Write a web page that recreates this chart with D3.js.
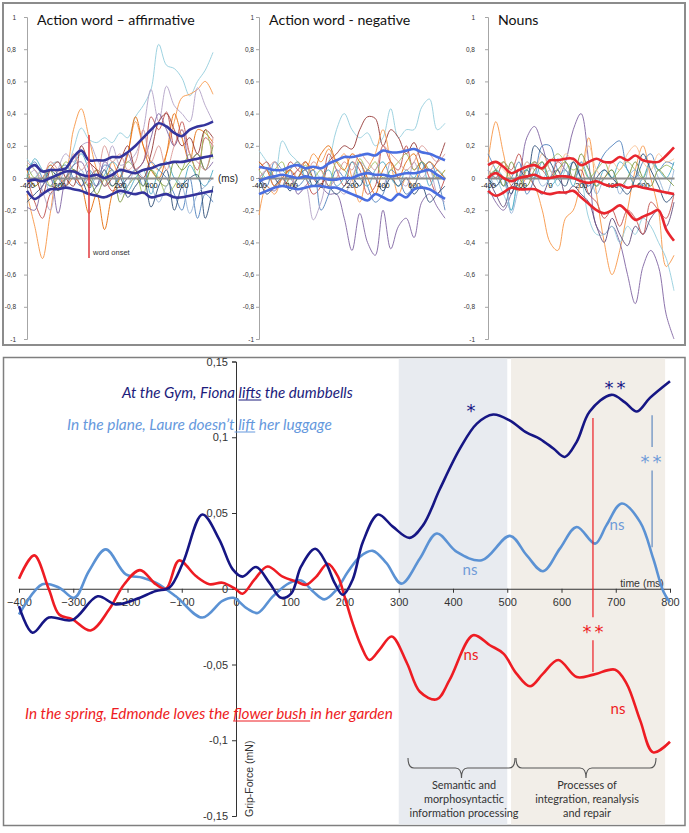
<!DOCTYPE html>
<html><head><meta charset="utf-8">
<script src="https://cdn.jsdelivr.net/npm/d3@7"></script>
<style>body{margin:0;background:#fff}svg{display:block}</style>
</head><body>
<script>
// ================= DATA =================
const topTimes=[-400,-350,-300,-250,-200,-150,-100,-50,0,50,100,150,200,250,300,350,400,450,500,550,600,650,700,750,800];
const topYTicks=[1,0.8,0.6,0.4,0.2,0,-0.2,-0.4,-0.6,-0.8,-1];
const topYTickLabels=["1","0,8","0,6","0,4","0,2","0","-0,2","-0,4","-0,6","-0,8","-1"];
const topXTicks=[-400,-200,0,200,400,600];
const topXTickLabels=["-400","-200","0","200","400","600"];
const panelTitles=["Action word \u2013 affirmative","Action word - negative","Nouns"];
const thinColors=["#93cddd","#f79646","#e46c0a","#b3a2c7","#c0504d","#4f81bd","#9bbb59","#4bacc6","#2c4d75","#8064a2","#77933c","#d99694","#953735","#95b3d7"];

const affThin=[
 [0.12,0.05,-0.02,0.08,0.10,0.05,0.18,0.31,0.24,0.22,0.25,0.22,0.28,0.25,0.38,0.45,0.55,0.83,0.70,0.68,0.62,0.51,0.60,0.67,0.78],
 [-0.10,-0.30,-0.50,-0.22,0.02,0.05,0.30,0.43,0.25,0.05,-0.05,0.10,0.00,0.15,0.35,0.20,0.10,0.05,0.15,0.35,0.50,0.52,0.55,0.60,0.52],
 [0.05,-0.05,0.0,0.08,0.02,-0.05,0.0,-0.05,-0.22,-0.10,-0.32,-0.10,0.0,0.15,0.38,0.20,0.05,0.0,0.15,0.40,0.25,0.10,0.30,0.28,0.22],
 [0.0,0.05,-0.08,-0.20,0.05,0.15,0.10,0.20,0.22,0.12,0.05,0.20,0.08,0.10,0.15,0.30,0.55,0.35,0.57,0.45,0.40,0.35,0.56,0.45,0.35],
 [0.0,-0.15,-0.25,-0.10,-0.05,0.0,0.05,-0.05,0.0,0.05,0.0,-0.08,-0.05,0.0,0.05,0.10,0.38,0.30,0.41,0.20,0.35,0.15,0.05,0.25,0.20],
 [0.05,0.10,0.0,-0.05,0.05,0.08,0.0,-0.05,0.05,0.0,0.08,0.05,-0.05,0.0,0.05,-0.05,0.10,0.05,0.0,-0.10,-0.20,0.0,-0.25,-0.10,-0.15],
 [0.08,0.0,0.05,-0.05,0.0,0.10,0.05,0.0,-0.05,0.05,0.0,-0.05,0.0,0.10,0.05,-0.10,0.05,0.0,-0.10,-0.05,0.05,0.15,0.0,0.30,0.12],
 [0.0,0.12,0.05,0.0,-0.05,0.0,0.08,0.15,0.05,-0.05,0.02,0.10,0.05,-0.08,0.0,0.05,-0.10,0.05,0.10,0.0,-0.05,0.08,0.0,-0.05,0.05],
 [-0.15,-0.10,-0.05,0.05,0.0,-0.05,0.05,0.0,-0.10,-0.05,0.05,-0.05,0.0,-0.12,-0.05,0.0,-0.18,-0.05,0.05,-0.20,-0.05,0.0,0.02,-0.25,-0.05],
 [-0.18,-0.20,-0.05,0.0,-0.22,0.0,0.08,0.10,0.0,-0.05,0.10,0.05,0.0,0.15,0.05,0.10,0.25,0.40,0.30,0.20,0.30,0.10,0.15,0.05,0.10],
 [0.02,-0.05,0.0,0.05,-0.08,0.0,0.05,0.02,0.0,-0.10,0.0,0.05,-0.15,-0.05,0.0,-0.05,0.05,-0.02,-0.05,0.10,0.05,0.10,0.15,0.05,0.20],
 [0.10,0.05,0.0,0.10,0.05,-0.05,0.15,0.05,0.10,0.0,0.20,0.10,0.15,0.05,0.10,0.30,0.10,0.20,0.05,0.20,0.30,0.15,0.10,0.05,0.25],
 [-0.05,0.0,-0.10,0.05,0.10,0.0,-0.05,0.20,0.10,0.05,-0.05,0.0,0.10,0.20,0.05,0.0,0.15,0.35,0.40,0.30,0.20,0.25,0.15,0.30,0.25],
 [-0.05,0.0,0.05,-0.10,-0.05,0.05,0.0,0.05,-0.05,0.0,-0.05,0.05,-0.10,-0.05,0.05,0.0,-0.05,-0.15,-0.05,0.0,-0.05,-0.22,-0.10,-0.05,0.0]
];
const affThick=[
 [0.05,0.08,0.04,0.05,0.05,0.06,0.13,0.17,0.11,0.11,0.11,0.13,0.13,0.16,0.20,0.25,0.30,0.34,0.32,0.28,0.26,0.30,0.32,0.33,0.35],
 [-0.02,-0.01,-0.02,0.0,0.02,0.04,0.04,0.02,0.01,0.02,0.0,0.02,0.05,0.04,0.03,0.05,0.06,0.08,0.09,0.10,0.10,0.11,0.12,0.13,0.14],
 [-0.08,-0.13,-0.10,-0.07,-0.07,-0.06,-0.07,-0.08,-0.10,-0.11,-0.12,-0.10,-0.08,-0.09,-0.10,-0.09,-0.12,-0.11,-0.10,-0.12,-0.12,-0.11,-0.10,-0.09,-0.08]
];
const negThin=[
 [0.17,0.10,0.0,0.23,0.15,0.10,0.0,0.05,0.0,0.10,0.30,0.40,0.30,0.25,0.28,0.20,0.25,0.43,0.25,0.30,0.30,0.44,0.49,0.30,0.34],
 [0.0,-0.05,-0.08,0.0,0.05,-0.10,-0.05,0.0,-0.05,-0.10,-0.10,-0.25,-0.45,-0.22,-0.40,-0.48,-0.20,-0.44,-0.30,-0.25,-0.37,-0.15,-0.10,-0.18,-0.25],
 [0.10,0.05,0.0,-0.05,0.0,0.05,0.10,0.0,-0.05,0.10,0.15,0.20,0.18,0.30,0.38,0.37,0.20,0.30,0.25,0.15,0.22,0.10,0.05,0.10,0.22],
 [-0.23,-0.05,-0.10,0.0,0.05,0.10,0.05,0.15,0.10,0.18,0.10,0.15,0.0,-0.15,0.05,0.15,0.30,0.10,-0.10,0.0,-0.05,0.10,0.05,0.0,0.05],
 [0.05,0.10,0.0,-0.05,0.10,0.05,0.0,-0.10,-0.05,0.15,0.05,-0.05,0.10,0.05,-0.10,-0.05,0.20,0.10,0.05,0.20,0.05,0.10,0.0,-0.10,0.0],
 [0.0,-0.05,0.10,0.05,0.0,-0.05,0.0,0.05,-0.20,-0.10,0.05,0.0,-0.05,0.10,-0.05,-0.15,-0.10,0.05,0.0,-0.10,-0.05,0.05,0.10,0.0,-0.20],
 [0.05,0.0,0.05,0.10,-0.05,0.0,0.08,0.0,0.05,-0.05,0.10,0.05,0.0,0.12,0.05,0.10,0.0,0.05,0.10,0.15,0.05,0.10,0.05,0.0,0.05],
 [-0.05,0.05,0.0,-0.05,0.05,0.10,0.0,-0.05,0.0,0.05,-0.05,0.0,0.10,0.0,-0.05,0.05,0.10,0.0,-0.05,0.05,0.0,0.10,-0.05,0.05,0.0],
 [0.0,-0.10,-0.05,0.0,-0.08,0.0,0.05,-0.05,0.0,-0.05,-0.10,-0.05,0.0,-0.05,0.05,0.0,-0.08,0.0,-0.05,0.0,-0.10,-0.05,-0.15,-0.10,-0.05],
 [0.0,0.05,-0.05,0.0,0.05,-0.10,-0.05,-0.26,-0.15,0.0,-0.05,-0.10,0.0,0.10,0.05,0.0,-0.05,0.10,0.0,-0.05,0.10,0.0,0.05,-0.10,-0.15],
 [0.10,0.05,-0.05,0.0,0.05,0.0,0.10,0.05,0.15,0.20,0.10,0.05,0.15,0.10,0.0,-0.10,0.05,0.10,0.0,0.10,0.15,0.05,0.10,0.05,0.0],
 [0.0,0.05,0.10,0.0,-0.05,0.05,0.0,0.10,0.05,-0.05,0.0,0.10,0.05,0.15,0.10,0.05,0.20,0.15,0.10,0.05,0.10,0.20,0.15,0.10,0.15]
];
const negThinColors=["#93cddd","#8064a2","#953735","#f79646","#c0504d","#4f81bd","#9bbb59","#4bacc6","#2c4d75","#b3a2c7","#e46c0a","#d99694"];
const negThick=[
 [0.07,0.06,0.05,0.05,0.07,0.08,0.06,0.07,0.06,0.09,0.11,0.13,0.13,0.14,0.15,0.14,0.17,0.16,0.16,0.17,0.18,0.16,0.15,0.13,0.11],
 [-0.02,0.0,0.01,0.02,0.01,0.0,0.01,0.0,0.0,-0.01,-0.01,0.0,0.0,0.02,0.03,0.02,0.02,0.01,0.02,0.03,0.03,0.04,0.05,0.02,-0.01],
 [-0.10,-0.08,-0.06,-0.05,-0.06,-0.07,-0.06,-0.05,-0.05,-0.06,-0.06,-0.08,-0.10,-0.12,-0.14,-0.10,-0.12,-0.14,-0.10,-0.12,-0.07,-0.06,-0.07,-0.10,-0.13]
];
const nounThin=[
 [0.10,0.35,0.15,-0.05,-0.08,0.0,-0.05,-0.20,-0.40,-0.45,-0.25,-0.20,0.0,0.25,-0.10,-0.40,-0.60,-0.45,-0.20,0.05,0.20,0.0,-0.20,-0.55,-0.48],
 [-0.05,-0.15,-0.20,-0.10,0.0,0.25,0.32,0.20,0.05,0.0,0.10,0.30,0.40,0.10,-0.30,-0.35,-0.30,-0.40,-0.60,-0.78,-0.55,-0.45,-0.55,-0.85,-1.0],
 [0.05,0.0,-0.10,-0.20,0.0,0.05,0.10,0.0,0.05,-0.05,0.05,0.10,0.0,-0.25,-0.35,-0.35,-0.30,-0.40,-0.30,-0.35,-0.25,-0.30,-0.40,-0.50,-0.70],
 [0.15,0.05,-0.05,0.0,0.10,-0.10,0.0,0.20,0.20,0.05,0.0,0.10,0.0,-0.05,0.05,0.15,0.20,0.23,0.05,0.0,0.10,0.15,0.05,0.10,0.08],
 [0.0,-0.10,-0.18,-0.05,0.0,0.05,-0.05,-0.10,0.0,0.05,-0.10,-0.05,-0.10,-0.15,-0.30,-0.40,-0.25,-0.35,-0.42,-0.30,-0.35,-0.25,-0.20,-0.30,-0.15],
 [0.05,0.0,0.10,0.05,0.15,0.0,0.10,0.05,0.0,0.10,0.05,0.0,0.05,-0.10,-0.15,-0.25,-0.20,-0.30,-0.20,-0.25,-0.35,-0.15,-0.20,-0.25,-0.10],
 [0.0,0.05,0.10,0.0,-0.05,0.05,0.10,0.05,0.10,0.15,0.10,0.05,0.08,0.0,0.05,0.10,0.0,0.05,0.10,0.05,0.0,0.10,0.05,0.08,0.05],
 [-0.10,0.05,0.0,-0.20,0.0,0.05,0.0,0.10,-0.05,0.0,0.05,-0.05,0.10,0.0,-0.05,0.05,0.0,0.10,0.05,-0.05,0.0,0.10,0.05,0.0,0.10],
 [0.05,-0.05,0.0,-0.22,-0.05,0.10,0.05,-0.05,0.0,0.12,0.05,0.0,0.10,0.05,-0.10,0.0,0.05,-0.10,0.0,0.05,-0.05,0.10,0.0,-0.10,0.05],
 [0.0,0.10,0.05,0.0,-0.05,0.10,0.05,0.15,0.05,0.0,0.15,0.10,0.05,0.20,0.05,0.0,0.10,0.05,0.15,0.20,0.10,0.05,0.15,0.10,0.12],
 [0.0,-0.05,0.0,-0.10,0.05,0.0,0.20,0.15,0.10,0.0,-0.05,0.10,0.0,-0.10,0.0,0.05,0.0,-0.05,-0.10,0.0,0.15,0.05,-0.05,-0.15,-0.10],
 [0.0,0.05,-0.05,0.10,0.0,-0.05,0.05,0.10,0.0,0.05,0.10,0.0,0.15,0.05,-0.05,0.0,0.05,-0.05,0.0,0.10,0.0,-0.05,0.05,0.0,-0.05]
];
const nounThinColors=["#f79646","#8064a2","#93cddd","#4f81bd","#5f497a","#c0504d","#9bbb59","#4bacc6","#95b3d7","#fac090","#2c4d75","#77933c"];
const nounThick=[
 [0.08,0.10,0.07,0.03,0.05,0.07,0.08,0.06,0.11,0.11,0.12,0.12,0.08,0.10,0.12,0.10,0.10,0.13,0.11,0.14,0.11,0.10,0.10,0.14,0.19],
 [0.0,0.03,0.0,-0.02,0.0,0.01,0.02,0.0,0.0,0.01,0.01,0.0,-0.02,-0.03,-0.02,-0.04,-0.05,-0.04,-0.06,-0.05,-0.06,-0.07,-0.08,-0.09,-0.10],
 [-0.08,-0.11,-0.09,-0.06,-0.07,-0.07,-0.07,-0.09,-0.10,-0.09,-0.09,-0.08,-0.12,-0.16,-0.20,-0.22,-0.20,-0.17,-0.21,-0.26,-0.24,-0.22,-0.20,-0.32,-0.39]
];
const thickColors=["#34349c","#4a6ee0","#e8262e"];

// bottom chart
const bottomXTicks=[-400,-300,-200,-100,0,100,200,300,400,500,600,700,800];
const bottomYTicks=[0.15,0.1,0.05,0,-0.05,-0.1,-0.15];
const bottomYTickLabels=["0,15","0,1","0,05","0","-0,05","-0,1","-0,15"];
const bandStart=[300,507];
const bandEnd=[500,791];
const bandColors=["#e8ebf0","#f2eee8"];

const navyT=[-400,-375,-345,-302,-255,-222,-185,-148,-123,-98,-62,-31,-6,12,37,62,83,102,120,146,166,182,197,215,234,262,289,320,345,376,413,444,474,505,536,560,585,606,628,652,692,717,739,763,800];
const navyV=[-0.0114,-0.029,-0.019,-0.0207,-0.005,-0.0103,-0.007,-0.0015,0.0007,0.017,0.049,0.0326,0.0128,0.008,0.0143,0.0037,-0.006,-0.003,0.0147,0.0264,0.017,0.0037,-0.004,0.006,0.031,0.049,0.041,0.0336,0.042,0.066,0.0926,0.109,0.115,0.111,0.103,0.099,0.0926,0.087,0.097,0.117,0.128,0.123,0.117,0.126,0.137];
const lightT=[-400,-357,-326,-298,-271,-240,-203,-172,-148,-111,-62,-25,-5,20,40,68,98,120,142,163,185,206,228,252,277,305,339,370,407,453,505,536,566,597,628,662,683,711,745,769,788,800];
const lightV=[-0.017,0.003,0.0007,-0.006,0.0117,0.026,0.0095,0.0073,0.004,-0.005,-0.019,-0.008,-0.006,-0.013,-0.016,-0.005,0.0037,0.0055,-0.0018,-0.007,-0.0007,0.011,0.021,0.025,0.017,0.0034,0.020,0.0365,0.0243,0.0188,0.0349,0.022,0.0116,0.0265,0.0408,0.0298,0.042,0.0563,0.044,0.020,-0.002,-0.009];
const redT=[-400,-372,-345,-326,-302,-268,-234,-206,-177,-148,-129,-105,-74,-49,-25,0,12,34,58,86,111,129,148,169,188,200,215,231,246,265,287,315,339,370,394,437,468,493,517,542,566,594,628,659,699,720,745,769,800];
const redV=[0.0066,0.022,-0.0004,-0.017,-0.020,-0.0275,-0.0137,0.003,0.0123,0.003,0.0,0.0187,0.0084,0.003,0.004,-0.0004,-0.0033,0.006,0.0147,0.008,0.0048,0.0026,0.008,0.0165,0.008,-0.005,-0.0227,-0.038,-0.047,-0.040,-0.0315,-0.049,-0.068,-0.073,-0.060,-0.0307,-0.0373,-0.0428,-0.056,-0.0644,-0.056,-0.047,-0.0583,-0.0567,-0.0534,-0.0626,-0.0869,-0.108,-0.101];
const seriesColors=["#161684","#5b92d4","#ee1c23"];
const sentences=["At the Gym, Fiona lifts the dumbbells","In the plane, Laure doesn\u2019t lift her luggage","In the spring, Edmonde loves the flower bush in her garden"];
const braceTexts=[["Semantic and","morphosyntactic","information processing"],["Processes of","integration, reanalysis","and repair"]];

// ================= DRAW =================
const svg=d3.select("body").append("svg").attr("width",689).attr("height",833)
  .style("font-family",'"Liberation Sans",Arial,sans-serif');
function fitText(sel,target){const n=sel.node();const fs=parseFloat(sel.attr("font-size"));const w=n.getComputedTextLength();sel.attr("font-size",fs*target/w);return fs*target/w;}

// ---------- top figure ----------
svg.append("rect").attr("x",3).attr("y",3).attr("width",682).attr("height",342)
  .attr("fill","#fff").attr("stroke","#8c8c8c").attr("stroke-width",2);
const panelAxisX=[27,259,488];
const labelGap=[8,2,10];
const topY=d3.scaleLinear().domain([-1,1]).range([339,17]);
const panels=[
 {thin:affThin,colors:thinColors,thick:affThick},
 {thin:negThin,colors:negThinColors,thick:negThick},
 {thin:nounThin,colors:nounThinColors,thick:nounThick}
];
let titleSize=null;
panels.forEach((p,i)=>{
  const ax=panelAxisX[i];
  const x=d3.scaleLinear().domain([-400,800]).range([ax,ax+186]);
  const g=svg.append("g");
  const ya=g.append("g").attr("transform",`translate(${ax},0)`)
    .call(d3.axisLeft(topY).tickValues(topYTicks).tickFormat((d,j)=>topYTickLabels[j]).tickSize(3).tickPadding(labelGap[i]));
  ya.select(".domain").attr("stroke","#a6a6a6");
  ya.selectAll(".tick line").attr("stroke","#a6a6a6");
  ya.selectAll("text").attr("font-size",6.5).attr("fill","#333").style("font-family",'"Liberation Sans",Arial');
  const line=d3.line().x((d,j)=>x(topTimes[j])).y(d=>topY(d)).curve(d3.curveCatmullRom.alpha(0.5));
  p.thin.forEach((s,k)=>g.append("path").attr("d",line(s)).attr("fill","none")
    .attr("stroke",p.colors[k%p.colors.length]).attr("stroke-width",1).attr("opacity",0.9));
  const xa=g.append("g").attr("transform",`translate(0,${topY(0)})`)
    .call(d3.axisBottom(x).tickValues(topXTicks).tickFormat((d,j)=>topXTickLabels[j]).tickSize(0).tickPadding(5));
  xa.select(".domain").attr("stroke","#8c8c8c").attr("stroke-width",2);
  xa.selectAll("text").attr("font-size",7.5).attr("fill","#222").style("font-family",'"Liberation Sans",Arial');
  p.thick.forEach(s=>g.append("path").attr("d",line(s)).attr("fill","none")
    .attr("stroke",thickColors[i]).attr("stroke-width",2.6));
  const t=g.append("text").attr("x",ax+10).attr("y",25).attr("font-size",15)
    .style("font-family","Lato, 'Open Sans', sans-serif").attr("fill","#111").text(panelTitles[i]);
  if(i===0){titleSize=fitText(t,158);} else t.attr("font-size",titleSize);
  if(i===0){
    g.append("line").attr("x1",x(0)).attr("x2",x(0)).attr("y1",135).attr("y2",258)
      .attr("stroke","#e0393e").attr("stroke-width",1.5);
    g.append("text").attr("x",x(0)+4).attr("y",255).attr("font-size",7.5).attr("fill","#333").text("word onset");
    g.append("text").attr("x",ax+191).attr("y",181.5).attr("font-size",10).attr("fill","#222").text("(ms)");
  }
});

// ---------- bottom figure ----------
svg.append("rect").attr("x",3.5).attr("y",357.5).attr("width",681.5).attr("height",468)
  .attr("fill","#fff").attr("stroke","#7f7f7f").attr("stroke-width",1.5);
const bx=d3.scaleLinear().domain([-400,800]).range([19,670]);
const by=d3.scaleLinear().domain([-0.15,0.15]).range([816,361.5]);
bandStart.forEach((s,i)=>svg.append("rect").attr("x",bx(s)).attr("width",bx(bandEnd[i])-bx(s))
  .attr("y",358.5).attr("height",466).attr("fill",bandColors[i]));

const yAx=svg.append("g").attr("transform",`translate(${bx(0)},0)`)
  .call(d3.axisLeft(by).tickValues(bottomYTicks).tickFormat((d,j)=>bottomYTickLabels[j]).tickSize(4).tickPadding(4));
const xAx=svg.append("g").attr("transform",`translate(0,${by(0)})`)
  .call(d3.axisBottom(bx).tickValues(bottomXTicks).tickSizeInner(4).tickSizeOuter(0).tickPadding(5));
[yAx,xAx].forEach(a=>{a.select(".domain").attr("stroke","#333").attr("stroke-width",1);
  a.selectAll(".tick line").attr("stroke","#333");
  a.selectAll("text").attr("font-size",11).attr("fill","#333").style("font-family",'"Liberation Sans",Arial');});

svg.append("text").attr("transform",`translate(253,817) rotate(-90)`).attr("font-size",10.5).attr("fill","#333").text("Grip-Force (mN)");
svg.append("text").attr("x",642).attr("y",587).attr("text-anchor","middle").attr("font-size",10.5).attr("fill","#333").text("time (ms)");

const bl=d3.line().x(d=>bx(d[0])).y(d=>by(d[1])).curve(d3.curveCatmullRom.alpha(0.5));
[[lightT,lightV],[redT,redV],[navyT,navyV]].forEach((s,i)=>{
  const col=[seriesColors[1],seriesColors[2],seriesColors[0]][i];
  svg.append("path").attr("d",bl(s[0].map((t,j)=>[t,s[1][j]]))).attr("fill","none")
    .attr("stroke",col).attr("stroke-width",2.6).attr("stroke-linejoin","round");
});

// annotation lines
const annot=[{t:658,segs:[[0.1127,-0.0188],[-0.034,-0.055]],c:"#ee1c23",w:1.2},
             {t:767,segs:[[0.1146,0.0935],[0.078,0.0274]],c:"#7d9dc8",w:1.5}];
annot.forEach(a=>{a.segs.forEach(s=>svg.append("line").attr("x1",bx(a.t)).attr("x2",bx(a.t))
  .attr("y1",by(s[0])).attr("y2",by(s[1])).attr("stroke",a.c).attr("stroke-width",a.w));});

const lato="Lato, 'Open Sans', sans-serif";
function stars(n,cx,cy,col){for(let k=0;k<n;k++){const sx=cx+(k-(n-1)/2)*12;
  svg.append("text").attr("x",sx).attr("y",cy+10.5).attr("text-anchor","middle")
  .attr("font-size",18).style("font-family","'DejaVu Sans'").attr("fill",col).text("*");}}
stars(2,615,383,seriesColors[0]);
stars(1,471,406,seriesColors[0]);
stars(2,651,457,"#6f9bd8");
stars(2,593,627,seriesColors[2]);
function ns(cx,cy,col){svg.append("text").attr("x",cx).attr("y",cy+5).attr("text-anchor","middle")
  .attr("font-size",15).style("font-family",lato).attr("fill",col).text("ns");}
ns(617,525,"#6f9bd8"); ns(470,570,"#6f9bd8"); ns(471,655,seriesColors[2]); ns(618,709,seriesColors[2]);

// sentences with underlines
const sentX=[122,67,25], sentY=[398,430,719], sentW=[231,265,368];
const sentCols=["#1c1c7c","#6699dd","#ee1c23"];
const ulWord=["lifts","lift","flower bush"], ulPre=[0,1,0], ulPost=[0,0,1];
sentences.forEach((s,i)=>{
  const t=svg.append("text").attr("x",sentX[i]).attr("y",sentY[i]).attr("font-size",15)
    .style("font-family",lato).style("font-style","italic").attr("fill",sentCols[i]).text(s);
  fitText(t,sentW[i]);
  const n=t.node(); const k=s.indexOf(ulWord[i]);
  const x1=n.getStartPositionOfChar(k-ulPre[i]).x, x2=n.getEndPositionOfChar(k+ulWord[i].length-1+ulPost[i]).x;
  svg.append("line").attr("x1",x1).attr("x2",x2).attr("y1",sentY[i]+2).attr("y2",sentY[i]+2)
    .attr("stroke",sentCols[i]).attr("stroke-width",1);
});

// braces
const braceX=[[408,515],[516,656]];
function brace(x1,x2){const xm=(x1+x2)/2, yt=758, ym=768, yb=778, r=6;
  return `M${x1},${yt} Q${x1},${ym} ${x1+r},${ym} L${xm-r},${ym} Q${xm},${ym} ${xm},${yb} Q${xm},${ym} ${xm+r},${ym} L${x2-r},${ym} Q${x2},${ym} ${x2},${yt}`;}
braceX.forEach(b=>svg.append("path").attr("d",brace(b[0],b[1])).attr("fill","none").attr("stroke","#555").attr("stroke-width",1.1));
const tmp=svg.append("text").attr("font-size",12).style("font-family",lato).text(braceTexts[0][2]);
const bfs=fitText(tmp,109); tmp.remove();
const braceCx=[464,587];
braceTexts.forEach((lines,i)=>lines.forEach((l,j)=>svg.append("text").attr("x",braceCx[i]).attr("y",789+j*14)
  .attr("text-anchor","middle").attr("font-size",bfs).style("font-family",lato).attr("fill","#333").text(l)));
</script>
</body></html>
